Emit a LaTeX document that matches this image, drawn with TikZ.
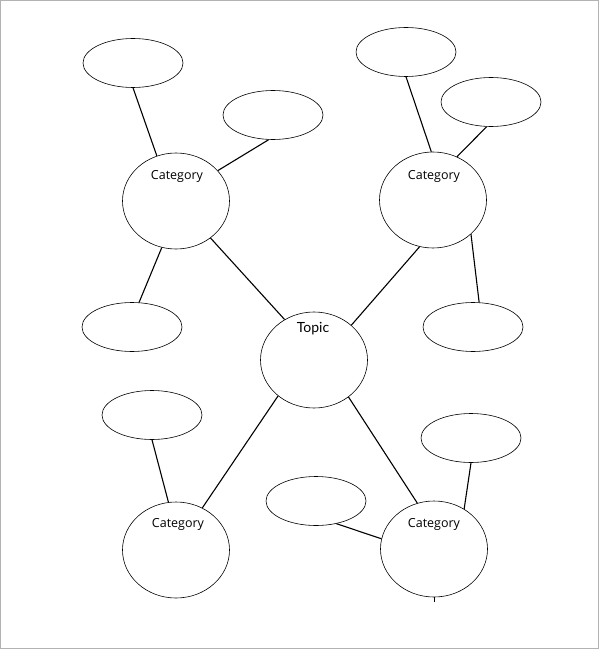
\documentclass[tikz,border=0pt]{standalone}
\usepackage{fontspec}
\usetikzlibrary{shapes.geometric}
\newfontfamily\catfont{Open Sans}
\newfontfamily\topicfont{Lato}

\begin{document}
\begin{tikzpicture}[x=1pt,y=-1pt,
    oval/.style={draw, ellipse, line width=0.6pt, minimum width=100pt, minimum height=49pt, inner sep=0pt},
    bubble/.style={draw, ellipse, line width=0.6pt, minimum width=107pt, minimum height=96pt, inner sep=0pt},
    link/.style={line width=1.1pt},
    cattext/.style={font=\catfont\fontsize{12.5}{15}\selectfont},
    topictext/.style={font=\topicfont\fontsize{14}{16}\selectfont}]
        \useasboundingbox (0,0) rectangle (600,650);

        % frame
        \draw[gray!60, line width=1pt] (0.5,0.5) rectangle (598.5,648.5);

        % topic and category circles
        \node[bubble] (topic) at (314,360) {};
        \node[bubble] (catA) at (176,201) {};
        \node[bubble] (catB) at (433,200) {};
        \node[bubble] (catC) at (176,550) {};
        \node[bubble] (catD) at (434,549) {};

        % labels
        \node[topictext] (topic-txt) at (313,329) {Topic};
        \node[cattext] (catA-txt) at (177,176) {Category};
        \node[cattext] (catB-txt) at (434,176) {Category};
        \node[cattext] (catC-txt) at (178,524) {Category};
        \node[cattext] (catD-txt) at (434,524) {Category};

        % empty detail ovals
        \foreach \n/\x/\y in {tlA/133/63, tlB/273/115, trA/406/52, trB/491/102,
                              lm/132/327, rm/473/327, bl/152/415, br/471/438, bm/316/501} {
            \node[oval] (\n) at (\x,\y) {};
        }

        % topic to categories
        \foreach \a/\b in {catA.313/topic.126, catB.254/topic.43,
                           topic.225/catC.58, topic.313/catD.110} {
            \draw[link] (\a) -- (\b);
        }

        % categories to details
        \foreach \a/\b in {tlA.south/catA.113, tlB.260/catA.36, catA.253/lm.74,
                           trA.south/catB.92, trB.260/catB.61, catB.318/rm.76,
                           bl.south/catC.99, bm.312/catD.169, br.south/catD.53} {
            \draw[link] (\a) -- (\b);
        }

        % small tick under the last circle
        \coordinate (tick) at (434,602);
        \draw[line width=0.6pt] (catD.south) -- (tick);
\end{tikzpicture}
\end{document}
